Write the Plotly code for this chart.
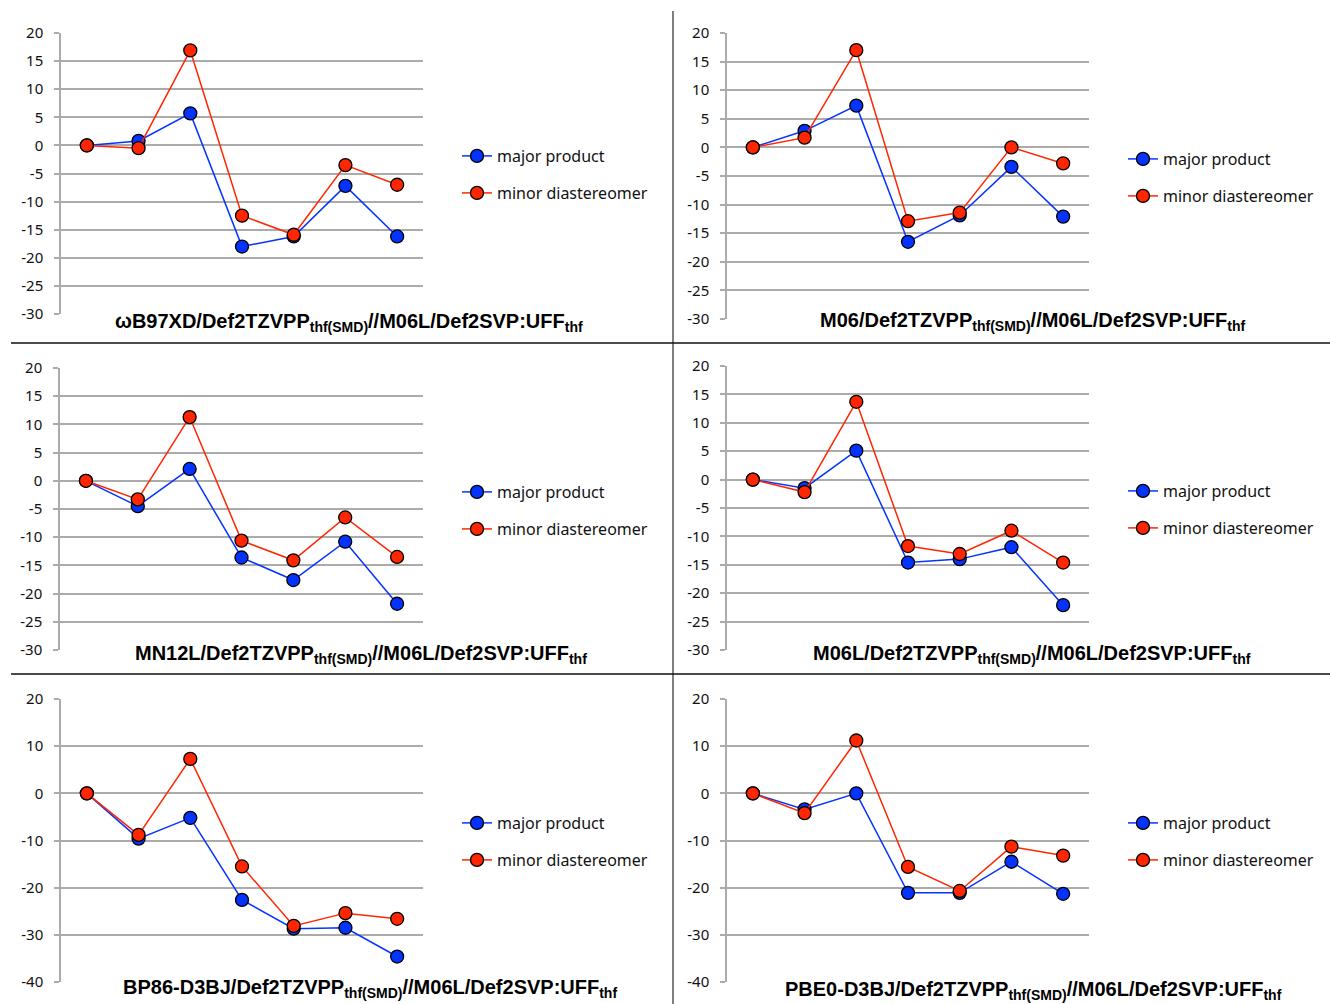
import plotly.graph_objects as go

# Reaction-profile points (relative energies) for each level of theory
steps = [1, 2, 3, 4, 5, 6, 7]

wb97xd_major = [0, 0.8, 5.7, -18.0, -16.2, -7.2, -16.2]
wb97xd_minor = [0, -0.5, 16.9, -12.5, -15.9, -3.5, -7.0]

m06_major = [0, 2.9, 7.3, -16.5, -11.9, -3.4, -12.1]
m06_minor = [0, 1.7, 17.0, -12.9, -11.4, 0.0, -2.8]

mn12l_major = [0, -4.5, 2.1, -13.6, -17.6, -10.8, -21.8]
mn12l_minor = [0, -3.3, 11.3, -10.6, -14.1, -6.5, -13.5]

m06l_major = [0, -1.5, 5.1, -14.6, -14.0, -11.9, -22.1]
m06l_minor = [0, -2.2, 13.7, -11.7, -13.1, -9.0, -14.6]

bp86_major = [0, -9.6, -5.2, -22.6, -28.7, -28.5, -34.6]
bp86_minor = [0, -8.8, 7.3, -15.5, -28.1, -25.4, -26.6]

pbe0_major = [0, -3.4, 0.0, -21.1, -21.1, -14.5, -21.3]
pbe0_minor = [0, -4.2, 11.2, -15.6, -20.7, -11.3, -13.2]

titles = [
    "ωB97XD/Def2TZVPP<sub>thf(SMD)</sub>//M06L/Def2SVP:UFF<sub>thf</sub>",
    "M06/Def2TZVPP<sub>thf(SMD)</sub>//M06L/Def2SVP:UFF<sub>thf</sub>",
    "MN12L/Def2TZVPP<sub>thf(SMD)</sub>//M06L/Def2SVP:UFF<sub>thf</sub>",
    "M06L/Def2TZVPP<sub>thf(SMD)</sub>//M06L/Def2SVP:UFF<sub>thf</sub>",
    "BP86-D3BJ/Def2TZVPP<sub>thf(SMD)</sub>//M06L/Def2SVP:UFF<sub>thf</sub>",
    "PBE0-D3BJ/Def2TZVPP<sub>thf(SMD)</sub>//M06L/Def2SVP:UFF<sub>thf</sub>",
]
series_names = ["major product", "minor diastereomer"]

# y-axis ticks (two scales: 5-unit steps and 10-unit steps)
ticks_fine = [-30, -25, -20, -15, -10, -5, 0, 5, 10, 15, 20]
ticks_coarse = [-40, -30, -20, -10, 0, 10, 20]
y_ticks = [ticks_fine, ticks_fine, ticks_fine, ticks_fine, ticks_coarse, ticks_coarse]

panels = [
    (wb97xd_major, wb97xd_minor),
    (m06_major, m06_minor),
    (mn12l_major, mn12l_minor),
    (m06l_major, m06l_minor),
    (bp86_major, bp86_minor),
    (pbe0_major, pbe0_minor),
]

W, H = 1330, 1004
BLUE = "#0433FF"
RED = "#FF2600"
GRID = "#ABABAB"


def px_x(v):
    return v / W


def px_y(v):
    return 1 - v / H


# plot-area boxes in pixels: (left, right, top, bottom)
boxes = [
    (61, 423, 33, 314),
    (727, 1089, 33, 319),
    (60, 423, 368, 650),
    (727, 1089, 366, 650),
    (61, 423, 699, 982),
    (727, 1089, 699, 982),
]
# where the visible stub of the bottom axis ends (title box starts)
stub_end = [92, 802, 117, 797, 106, 767]
# title centres (pixels)
title_pos = [(349, 323), (1032, 322), (361, 654), (1032, 654), (370, 988), (1033, 990)]
# legend rows (pixels): left edge, first row y, second row y
legend_pos = [(457, 156, 193), (1123, 159, 196), (457, 492, 529),
              (1123, 491, 528), (457, 823, 860), (1123, 823, 860)]

fig = go.Figure()
layout = dict(
    width=W, height=H,
    margin=dict(l=0, r=0, t=0, b=0, autoexpand=False),
    paper_bgcolor="white", plot_bgcolor="white",
    font=dict(family="Noto Sans", size=15, color="#111111"),
    showlegend=True,
)
shapes = []
annotations = []

for i, ((major, minor), box) in enumerate(zip(panels, boxes)):
    n = i + 1
    xa = "xaxis" if n == 1 else f"xaxis{n}"
    ya = "yaxis" if n == 1 else f"yaxis{n}"
    xr = "x" if n == 1 else f"x{n}"
    yr = "y" if n == 1 else f"y{n}"
    l, r, t, b = box
    layout[xa] = dict(
        domain=[px_x(l), px_x(r)], range=[0.5, 7.5], anchor=yr,
        showgrid=False, zeroline=False, showline=False,
        showticklabels=False, ticks="", automargin=False,
    )
    tv = y_ticks[i]
    layout[ya] = dict(
        domain=[px_y(b), px_y(t)], range=[min(tv), max(tv)], anchor=xr,
        tickmode="array", tickvals=tv, ticktext=[str(v) for v in tv],
        automargin=False,
        showgrid=True, gridcolor=GRID, gridwidth=1.5,
        zeroline=False, showline=True, linecolor=GRID, linewidth=1.5,
        ticks="outside", ticklen=5, tickcolor=GRID, tickwidth=1.5,
        ticklabelstandoff=8,
        tickfont=dict(family="Noto Sans", size=15, color="#111111"),
    )
    for k, (vals, col) in enumerate(((major, BLUE), (minor, RED))):
        leg = f"legend{2 * i + k + 1}" if (2 * i + k) > 0 else "legend"
        fig.add_trace(go.Scatter(
            x=steps, y=vals, xaxis=xr, yaxis=yr,
            mode="lines+markers", name=series_names[k],
            line=dict(color=col, width=1.5),
            marker=dict(color=col, size=13, line=dict(color="black", width=1.3)),
            legend=leg, cliponaxis=False,
        ))
        lx, ly1, ly2 = legend_pos[i]
        layout[leg] = dict(
            x=px_x(lx), y=px_y(ly1 if k == 0 else ly2),
            xanchor="left", yanchor="middle",
            bgcolor="rgba(0,0,0,0)", borderwidth=0,
            font=dict(family="Noto Sans", size=16, color="#111111"),
        )
    # hide the bottom axis line behind the chart title, leaving the short stub
    shapes.append(dict(
        type="rect", xref="paper", yref="paper", layer="above",
        x0=px_x(stub_end[i]), x1=px_x(r + 2), y0=px_y(b + 3), y1=px_y(b - 2),
        fillcolor="white", line=dict(width=0),
    ))
    tx, ty = title_pos[i]
    annotations.append(dict(
        text="<b>" + titles[i] + "</b>", xref="paper", yref="paper",
        x=px_x(tx), y=px_y(ty), xanchor="center", yanchor="middle",
        showarrow=False,
        font=dict(family="Liberation Sans", size=20, color="black"),
    ))

# panel separators
shapes.append(dict(type="line", xref="paper", yref="paper",
                   x0=px_x(673), x1=px_x(673), y0=px_y(11), y1=px_y(H),
                   line=dict(color="#7F7F7F", width=2)))
for yy in (343, 674):
    shapes.append(dict(type="line", xref="paper", yref="paper",
                       x0=px_x(11), x1=px_x(W), y0=px_y(yy), y1=px_y(yy),
                       line=dict(color="#111111", width=1.5)))

layout["shapes"] = shapes
layout["annotations"] = annotations
fig.update_layout(**layout)
fig.write_html("out.html")
